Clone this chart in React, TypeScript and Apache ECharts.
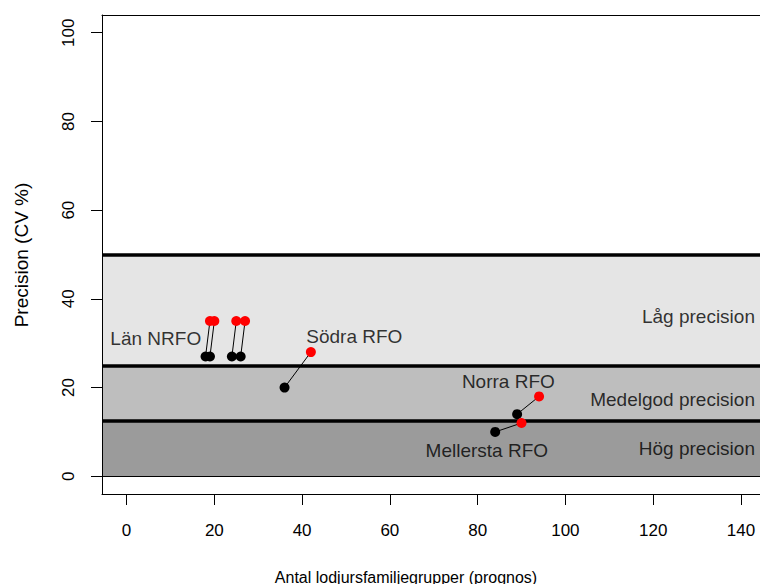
import React, { useEffect, useRef } from 'react';
import * as echarts from 'echarts';

// Points: black = start, red = end, connected pairwise
const blackX = [18, 19, 24, 26, 36, 89, 84];
const blackY = [27, 27, 27, 27, 20, 14, 10];
const redX = [19, 20, 25, 27, 42, 94, 90];
const redY = [35, 35, 35, 35, 28, 18, 12];

// Region annotations (data-coordinate anchors)
const regionNames = ['Län NRFO', 'Södra RFO', 'Norra RFO', 'Mellersta RFO'];
const regionLabelX = [17.0, 51.9, 87.0, 82.1];
const regionLabelY = [31.0, 31.6, 21.4, 5.9];

// Precision bands
const bandLimits = [0, 12.5, 25, 50];
const precisionNames = ['Hög precision', 'Medelgod precision', 'Låg precision'];
const precisionLabelY = [6.2, 17.3, 36.1];
const precisionLabelX = 143.2;

const xTicks = [0, 20, 40, 60, 80, 100, 120, 140];
const yTicks = [0, 20, 40, 60, 80, 100];

const FONT = '"Liberation Sans", Arial, Helvetica, sans-serif';

export default function App() {
  const ref = useRef<HTMLDivElement>(null);
  useEffect(() => {
    if (!ref.current) return;
    const chart = echarts.init(ref.current, undefined, { renderer: 'svg' });
    const bandColors = ['#9B9B9B', '#BEBEBE', '#E5E5E5'];
    const labelData: any[] = [];
    regionNames.forEach((n, i) => {
      labelData.push({
        name: n,
        value: [regionLabelX[i], regionLabelY[i]],
        label: i === 0
          ? { position: 'left', distance: 0, color: '#000' }
          : { position: 'inside', color: '#000' },
      });
    });
    precisionNames.forEach((n, i) => {
      labelData.push({
        name: n,
        value: [precisionLabelX, precisionLabelY[i]],
        label: { position: 'left', distance: 0, color: '#000' },
      });
    });
    chart.setOption({
      animation: false,
      textStyle: { fontFamily: FONT },
      grid: { left: 102, top: 15, width: 663.5, height: 479, containLabel: false, outerBoundsMode: 'none' },
      xAxis: [
        {
          type: 'value',
          min: -5.6,
          max: 145.6,
          position: 'bottom',
          z: 10,
          axisLine: { show: true, onZero: false, lineStyle: { color: '#000', width: 1 } },
          axisTick: { show: true, length: 11, customValues: xTicks, lineStyle: { color: '#000' } },
          axisLabel: { show: true, customValues: xTicks, fontSize: 17, color: '#000', margin: 28, fontFamily: FONT },
          splitLine: { show: false },
        },
        {
          type: 'value',
          min: -5.6,
          max: 145.6,
          position: 'top',
          z: 10,
          axisLine: { show: true, onZero: false, lineStyle: { color: '#000', width: 1 } },
          axisTick: { show: false },
          axisLabel: { show: false },
          splitLine: { show: false },
        },
      ],
      yAxis: [
        {
          type: 'value',
          min: -4,
          max: 104,
          position: 'left',
          z: 10,
          axisLine: { show: true, onZero: false, lineStyle: { color: '#000', width: 1 } },
          axisTick: { show: true, length: 11, customValues: yTicks, lineStyle: { color: '#000' } },
          axisLabel: { show: true, customValues: yTicks, rotate: 90, fontSize: 17, color: '#000', margin: 25, fontFamily: FONT },
          splitLine: { show: false },
        },
      ],
      graphic: [
        {
          type: 'text',
          x: 406,
          y: 577,
          style: {
            text: 'Antal lodjursfamiljegrupper (prognos)',
            align: 'center',
            verticalAlign: 'middle',
            font: `16px ${FONT}`,
            fill: '#000',
          },
        },
        {
          type: 'text',
          x: 21,
          y: 255,
          rotation: Math.PI / 2,
          style: {
            text: 'Precision (CV %)',
            align: 'center',
            verticalAlign: 'middle',
            font: `19px ${FONT}`,
            fill: '#000',
          },
        },
      ],
      series: [
        {
          type: 'line',
          data: [],
          z: 1,
          silent: true,
          markArea: {
            silent: true,
            data: bandColors.map((c, i) => [
              { yAxis: bandLimits[i], itemStyle: { color: c, borderWidth: 0 } },
              { yAxis: bandLimits[i + 1] },
            ]),
          },
          markLine: {
            silent: true,
            symbol: ['none', 'none'],
            label: { show: false },
            data: bandLimits.map((v, i) => ({
              yAxis: v,
              lineStyle: { color: '#000', width: i === 0 ? 1 : 3.5, type: 'solid' },
            })),
          },
        },
        {
          type: 'lines',
          coordinateSystem: 'cartesian2d',
          z: 3,
          silent: true,
          lineStyle: { color: '#000', width: 1, opacity: 1 },
          data: blackX.map((x, i) => ({ coords: [[x, blackY[i]], [redX[i], redY[i]]] })),
        },
        {
          type: 'scatter',
          z: 4,
          symbol: 'circle',
          symbolSize: 10,
          itemStyle: { color: '#000', opacity: 1 },
          data: blackX.map((x, i) => [x, blackY[i]]),
        },
        {
          type: 'scatter',
          z: 5,
          symbol: 'circle',
          symbolSize: 10,
          itemStyle: { color: '#FF0000', opacity: 1 },
          data: redX.map((x, i) => [x, redY[i]]),
        },
        {
          type: 'scatter',
          z: 6,
          symbolSize: 0,
          silent: true,
          label: {
            show: true,
            formatter: '{b}',
            fontSize: 19,
            color: '#000',
            fontFamily: FONT,
          },
          data: labelData,
        },
      ],
    });
    return () => chart.dispose();
  }, []);
  return <div ref={ref} style={{ position: 'absolute', left: 0, top: 0, width: 760, height: 584 }} />;
}
